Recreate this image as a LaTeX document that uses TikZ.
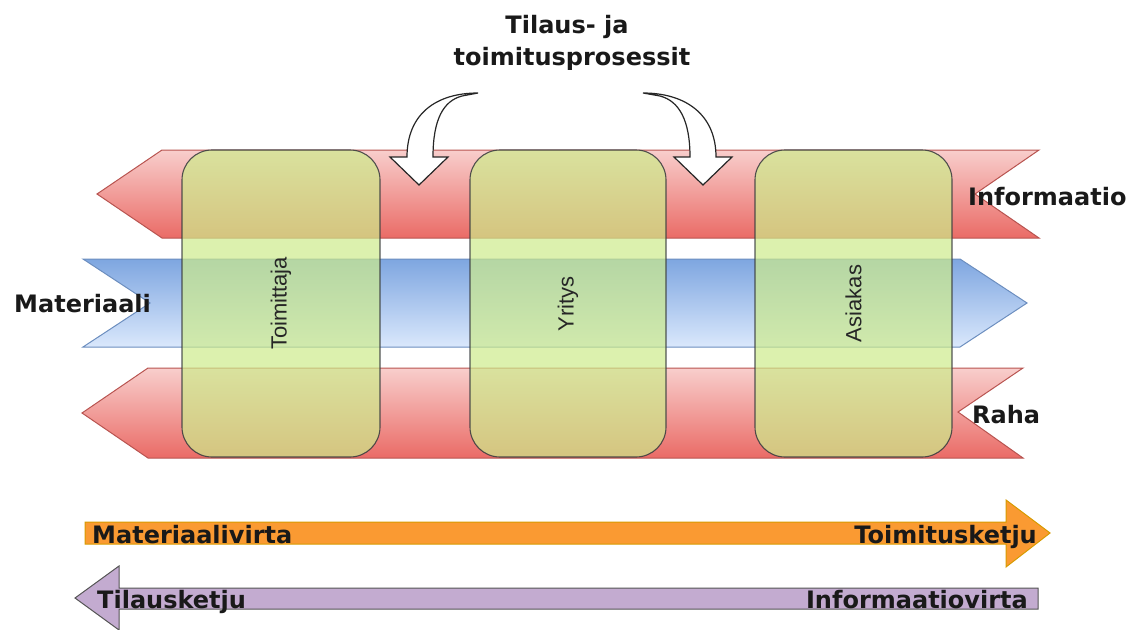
\documentclass[tikz,border=0pt]{standalone}
\usepackage{fontspec}
\setmainfont{DejaVu Sans}
\newfontfamily\plainsans{Liberation Sans}
\begin{document}
\begin{tikzpicture}[x=1pt,y=-1pt,
  redflow/.style={top color=redtop,bottom color=redbot,draw=redline,line width=1pt,line join=miter},
  blueflow/.style={top color=bluetop,bottom color=bluebot,draw=blueline,line width=1pt},
  party/.style={rounded corners=30pt,fill=partyfill,fill opacity=0.7,draw=partyline,draw opacity=0.85,
    line width=1.1pt,rotate=90,text opacity=1,inner sep=0pt,
    font=\plainsans\fontsize{22}{24}\selectfont,text=black!85},
  bendarrow/.style={fill=white,draw=black!85,line width=1.2pt,line join=miter},
  label/.style={inner sep=0pt,font=\bfseries\fontsize{24}{28}\selectfont,text=black!90},
  orangebar/.style={fill=orangefill,draw=orangeline,line width=1pt},
  purplebar/.style={fill=purplefill,draw=purpleline,line width=1pt}]
\definecolor{redtop}{HTML}{F8CECC}
\definecolor{redbot}{HTML}{EA6B66}
\definecolor{redline}{HTML}{B85450}
\definecolor{bluetop}{HTML}{7EA6E0}
\definecolor{bluebot}{HTML}{DAE8FC}
\definecolor{blueline}{HTML}{6C8EBF}
\definecolor{partyfill}{HTML}{CDEB8B}
\definecolor{partyline}{HTML}{36393D}
\definecolor{orangefill}{HTML}{FA9A32}
\definecolor{orangeline}{HTML}{D79B00}
\definecolor{purplefill}{HTML}{C3ABD0}
\definecolor{purpleline}{HTML}{555555}

\useasboundingbox (0,0) rectangle (1145,629);

% information flow (upper band, pointing left)
\shadedraw[redflow] (97,194) -- (162,150) -- (1039,150) -- (975,194) -- (1039,238) -- (162,238) -- cycle;
% material flow (middle band, pointing right)
\shadedraw[blueflow] (83,259) -- (960,259) -- (1027,303) -- (960,347) -- (83,347) -- (150,303) -- cycle;
% money flow (lower band, pointing left)
\shadedraw[redflow] (82,413) -- (148,368) -- (1023,368) -- (958,412) -- (1023,458) -- (148,458) -- cycle;

% the three parties of the chain
\node[party,minimum width=307pt,minimum height=198pt] (supplier) at (281,303.5) {Toimittaja};
\node[party,minimum width=307pt,minimum height=196pt] (company) at (568,303.5) {Yritys};
\node[party,minimum width=307pt,minimum height=197pt] (customer) at (853.5,303.5) {Asiakas};

% bent arrows from the process title down into the information band
\draw[bendarrow] (478,93) .. controls (436,93) and (407,114) .. (407,157)
  -- (390,157) -- (419,185) -- (448,157) -- (433,157)
  .. controls (433,120) and (443,101) .. (462,96) -- cycle;
\draw[bendarrow] (643,93) .. controls (685,93) and (716,114) .. (716,157)
  -- (732,157) -- (703,185) -- (674,157) -- (690,157)
  .. controls (690,120) and (679,101) .. (660,96) -- cycle;

\node[label,anchor=base] (title1) at (567,33) {Tilaus- ja};
\node[label,anchor=base] (title2) at (572,65) {toimitusprosessit};

\node[label,anchor=base west] (info) at (968,205) {Informaatio};
\node[label,anchor=base west] (mat) at (14,312) {Materiaali};
\node[label,anchor=base west] (money) at (972,423) {Raha};

% supply chain arrow (right) and order chain arrow (left)
\draw[orangebar] (85,522) -- (1006,522) -- (1006,500) -- (1050,533) -- (1006,567) -- (1006,544) -- (85,544) -- cycle;
\draw[purplebar] (1038,588) -- (119,588) -- (119,566) -- (75,598) -- (119,630) -- (119,609) -- (1038,609) -- cycle;

\node[label,anchor=base west] (matflow) at (92,543) {Materiaalivirta};
\node[label,anchor=base east] (supply) at (1037,543) {Toimitusketju};
\node[label,anchor=base west] (orders) at (97,608) {Tilausketju};
\node[label,anchor=base east] (infoflow) at (1028,608) {Informaatiovirta};
\end{tikzpicture}
\end{document}
